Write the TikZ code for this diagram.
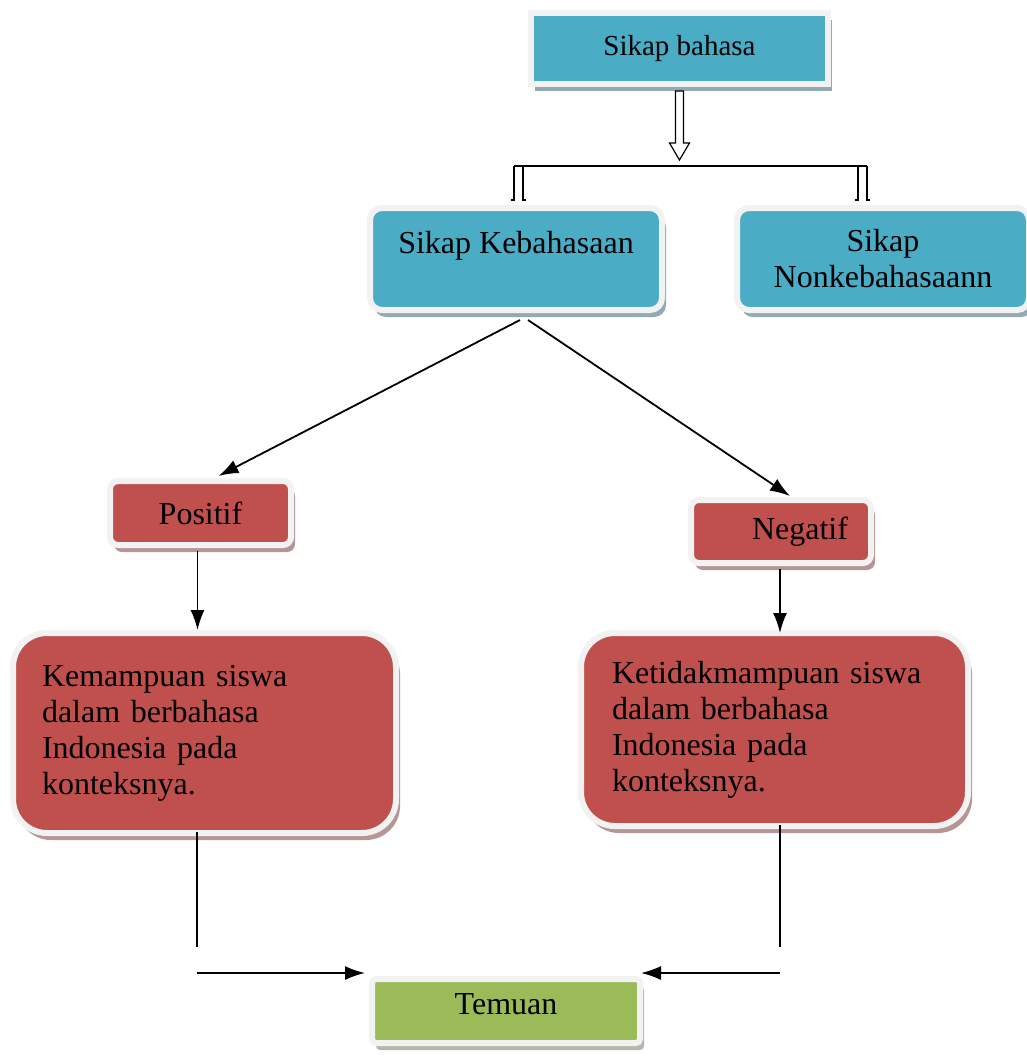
\documentclass[tikz,border=0pt]{standalone}
\usepackage{fontspec}
\setmainfont{Liberation Serif}
\usetikzlibrary{arrows.meta,calc,shadows}
\definecolor{sikap}{HTML}{4BACC6}
\definecolor{nilai}{HTML}{C0504D}
\definecolor{temu}{HTML}{9BBB59}
\definecolor{bingkai}{HTML}{F2F2F2}
\definecolor{bayangbiru}{HTML}{93AAB4}
\definecolor{bayangmerah}{HTML}{B59595}
\definecolor{bayanghijau}{HTML}{B4B8AC}
\tikzset{
  kotak/.style={draw=bingkai, line width=3pt, font=\fontsize{16}{18}\selectfont, inner sep=0pt},
  kotakbiru/.style={kotak, fill=sikap, drop shadow={shadow xshift=2pt, shadow yshift=-3.5pt, fill=bayangbiru, opacity=1}},
  kotakmerah/.style={kotak, fill=nilai, drop shadow={shadow xshift=2pt, shadow yshift=-3.5pt, fill=bayangmerah, opacity=1}},
  kotakhijau/.style={kotak, fill=temu, drop shadow={shadow xshift=2pt, shadow yshift=-3.5pt, fill=bayanghijau, opacity=1}},
  garis/.style={black, line width=0.9pt},
  panah/.style={garis, -{Latex[length=10pt,width=7pt]}}
}

\begin{document}
\begin{tikzpicture}[x=0.5pt, y=-0.5pt]
    \useasboundingbox (0,0) rectangle (1027,1056);

    % Kotak atas
    \node[kotakbiru, minimum width=148.5pt, minimum height=35.5pt, font=\fontsize{14.5}{17}\selectfont] (bahasa) at (679.5,48.5) {Sikap bahasa};

    \node[kotakbiru, rounded corners=6pt, minimum width=146pt, minimum height=51pt, text height=4pt, text depth=10pt] (keb) at (516,259) {Sikap Kebahasaan};
    \node[kotakbiru, rounded corners=6pt, minimum width=146pt, minimum height=51pt, align=center] (nonkeb) at (883,259) {Sikap\\Nonkebahasaann};

    % Positif dan negatif
    \node[kotakmerah, rounded corners=4pt, minimum width=90.5pt, minimum height=32pt] (pos) at (200.5,513) {Positif};
    \node[kotakmerah, rounded corners=4pt, minimum width=90pt, minimum height=31.5pt] (neg) at (781,531.5) {\hspace*{19pt}Negatif};

    \node[kotakmerah, rounded corners=17pt, minimum width=191.5pt, minimum height=100pt, inner xsep=14.5pt, text width=162.5pt, align=left] (kem) at (204.5,733)
        {Kemampuan siswa\\dalam berbahasa\\Indonesia pada\\konteksnya.};
    \node[kotakmerah, rounded corners=17pt, minimum width=193.5pt, minimum height=96.5pt, inner xsep=15.5pt, text width=162.5pt, align=left] (ket) at (774.5,729.5)
        {Ketidakmampuan siswa\\dalam berbahasa\\Indonesia pada\\konteksnya.};

    % Temuan
    \node[kotakhijau, rounded corners=2pt, minimum width=134pt, minimum height=32pt, text height=8pt, text depth=4.5pt] (tem) at (506,1011) {Temuan};

    % Panah berongga
    \draw[black, fill=white, line width=0.6pt] ($(bahasa.south)+(-4,4)$) -- ++(0,52) -- ++(-6,0) -- ++(10,17) -- ++(10,-17) -- ++(-6,0) -- ++(0,-52) -- cycle;

    \coordinate (cabangKiri) at (514,166);
    \coordinate (cabangKanan) at (867,166);
    \draw[black, line width=0.6pt] (cabangKiri) -- (cabangKanan);
    \draw[black, line width=0.6pt] (cabangKiri) -- ++(0,34) -- ++(-3,0);
    \draw[black, line width=0.6pt] ($(cabangKiri)+(9,0)$) -- ++(0,34) -- ++(3,0);
    \draw[black, line width=0.6pt] (cabangKanan) -- ++(0,34) -- ++(3,0);
    \draw[black, line width=0.6pt] ($(cabangKanan)+(-9,0)$) -- ++(0,34) -- ++(-3,0);

    % Panah
    \draw[panah] ($(keb.south)+(4,7)$) -- ($(pos.north)+(18,-2)$);
    \draw[panah] ($(keb.south)+(12,7)$) -- ($(neg.north)+(9,-1)$);

    \draw[panah] ($(pos.south)+(-3,3)$) -- ($(kem.north)+(-7,0)$);
    \draw[panah] ($(neg.south)+(-1,3)$) -- ($(ket.north)+(5.5,3)$);

    \coordinate (kemBawah) at (197,947);
    \coordinate (kiriMasuk) at (197,973);
    \coordinate (ketBawah) at (780,947);
    \coordinate (kananMasuk) at (780,973);

    \draw[garis] ($(kem.south -| kemBawah)+(0,-4)$) -- (kemBawah);
    \draw[garis] ($(ket.south -| ketBawah)+(0,-4)$) -- (ketBawah);
    \draw[panah] (kiriMasuk) -- ($(tem.north west |- kiriMasuk)+(-4,0)$);
    \draw[panah] (kananMasuk) -- ($(tem.north east |- kananMasuk)+(-2,0)$);
  \end{tikzpicture}
\end{document}
